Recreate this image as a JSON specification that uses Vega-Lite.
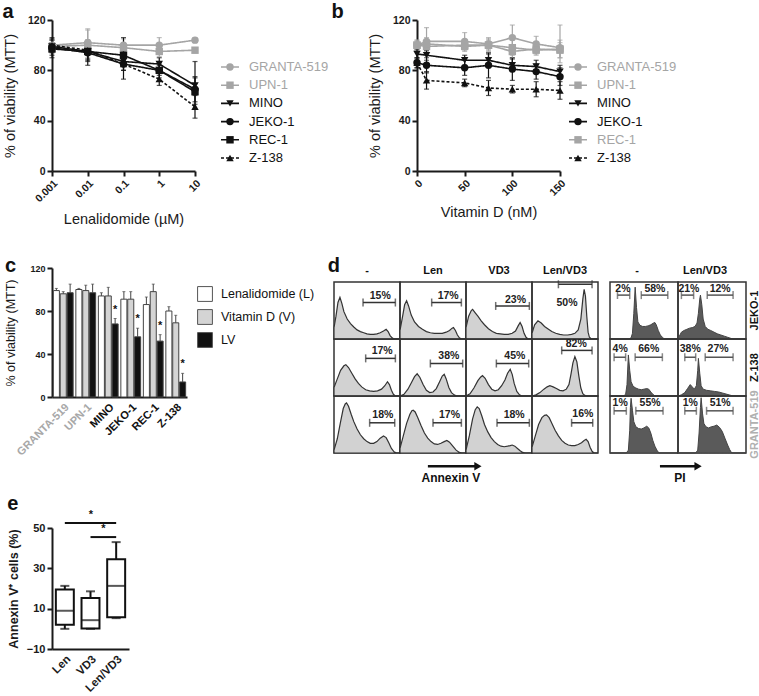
{
  "$schema": "https://vega.github.io/schema/vega-lite/v6.json",
  "padding": {"left": 2, "top": 2, "right": 0, "bottom": 0},
  "background": "white",
  "config": {
    "font": "Liberation Sans",
    "view": {"stroke": null},
    "title": {"anchor": "start", "fontSize": 20, "fontWeight": "bold", "color": "#111111", "font": "Liberation Sans"},
    "axis": {"grid": false, "domainColor": "#1a1a1a", "tickColor": "#1a1a1a", "labelColor": "#1a1a1a", "titleColor": "#1a1a1a", "domainWidth": 2, "tickWidth": 2, "tickSize": 5, "labelPadding": 2, "labelFont": "Liberation Sans", "titleFont": "Liberation Sans"},
    "legend": {"labelFont": "Liberation Sans", "labelColor": "#111111"},
    "header": {"labelFont": "Liberation Sans", "labelColor": "#111111"}
  },
  "datasets": {
    "lineA": [
      {"s": "GRANTA-519", "x": 0.001, "v": 100, "lo": 96, "hi": 104},
      {"s": "GRANTA-519", "x": 0.01, "v": 102, "lo": 93, "hi": 112},
      {"s": "GRANTA-519", "x": 0.1, "v": 100, "lo": 95, "hi": 105},
      {"s": "GRANTA-519", "x": 1, "v": 100, "lo": 94, "hi": 106},
      {"s": "GRANTA-519", "x": 10, "v": 104, "lo": 102, "hi": 106},
      {"s": "UPN-1", "x": 0.001, "v": 99, "lo": 94, "hi": 104},
      {"s": "UPN-1", "x": 0.01, "v": 100, "lo": 90, "hi": 113},
      {"s": "UPN-1", "x": 0.1, "v": 98, "lo": 94, "hi": 102},
      {"s": "UPN-1", "x": 1, "v": 95, "lo": 91, "hi": 99},
      {"s": "UPN-1", "x": 10, "v": 96, "lo": 94, "hi": 98},
      {"s": "MINO", "x": 0.001, "v": 99, "lo": 94, "hi": 104},
      {"s": "MINO", "x": 0.01, "v": 95, "lo": 88, "hi": 101},
      {"s": "MINO", "x": 0.1, "v": 87, "lo": 80, "hi": 94},
      {"s": "MINO", "x": 1, "v": 85, "lo": 80, "hi": 90},
      {"s": "MINO", "x": 10, "v": 68, "lo": 62, "hi": 74},
      {"s": "JEKO-1", "x": 0.001, "v": 98, "lo": 90, "hi": 106},
      {"s": "JEKO-1", "x": 0.01, "v": 94, "lo": 84, "hi": 104},
      {"s": "JEKO-1", "x": 0.1, "v": 85, "lo": 73, "hi": 97},
      {"s": "JEKO-1", "x": 1, "v": 80, "lo": 74, "hi": 86},
      {"s": "JEKO-1", "x": 10, "v": 65, "lo": 53, "hi": 87},
      {"s": "REC-1", "x": 0.001, "v": 97, "lo": 92, "hi": 102},
      {"s": "REC-1", "x": 0.01, "v": 95, "lo": 87, "hi": 103},
      {"s": "REC-1", "x": 0.1, "v": 92, "lo": 86, "hi": 106},
      {"s": "REC-1", "x": 1, "v": 80, "lo": 76, "hi": 84},
      {"s": "REC-1", "x": 10, "v": 63, "lo": 55, "hi": 75},
      {"s": "Z-138", "x": 0.001, "v": 100, "lo": 95, "hi": 105},
      {"s": "Z-138", "x": 0.01, "v": 96, "lo": 89, "hi": 103},
      {"s": "Z-138", "x": 0.1, "v": 85, "lo": 80, "hi": 90},
      {"s": "Z-138", "x": 1, "v": 73, "lo": 68, "hi": 78},
      {"s": "Z-138", "x": 10, "v": 51, "lo": 42, "hi": 60}
    ],
    "lineB": [
      {"s": "GRANTA-519", "x": 0, "v": 100, "lo": 96, "hi": 104},
      {"s": "GRANTA-519", "x": 10, "v": 103, "lo": 94, "hi": 114},
      {"s": "GRANTA-519", "x": 50, "v": 103, "lo": 97, "hi": 110},
      {"s": "GRANTA-519", "x": 75, "v": 101, "lo": 97, "hi": 106},
      {"s": "GRANTA-519", "x": 100, "v": 106, "lo": 97, "hi": 116},
      {"s": "GRANTA-519", "x": 125, "v": 101, "lo": 95, "hi": 107},
      {"s": "GRANTA-519", "x": 150, "v": 98, "lo": 86, "hi": 116},
      {"s": "UPN-1", "x": 0, "v": 100, "lo": 96, "hi": 104},
      {"s": "UPN-1", "x": 10, "v": 99, "lo": 95, "hi": 103},
      {"s": "UPN-1", "x": 50, "v": 100, "lo": 96, "hi": 104},
      {"s": "UPN-1", "x": 75, "v": 100, "lo": 96, "hi": 104},
      {"s": "UPN-1", "x": 100, "v": 95, "lo": 90, "hi": 100},
      {"s": "UPN-1", "x": 125, "v": 97, "lo": 93, "hi": 101},
      {"s": "UPN-1", "x": 150, "v": 96, "lo": 90, "hi": 102},
      {"s": "MINO", "x": 0, "v": 93, "lo": 89, "hi": 97},
      {"s": "MINO", "x": 10, "v": 92, "lo": 88, "hi": 96},
      {"s": "MINO", "x": 50, "v": 88, "lo": 84, "hi": 92},
      {"s": "MINO", "x": 75, "v": 88, "lo": 84, "hi": 93},
      {"s": "MINO", "x": 100, "v": 84, "lo": 79, "hi": 89},
      {"s": "MINO", "x": 125, "v": 83, "lo": 78, "hi": 88},
      {"s": "MINO", "x": 150, "v": 79, "lo": 74, "hi": 84},
      {"s": "JEKO-1", "x": 0, "v": 86, "lo": 82, "hi": 90},
      {"s": "JEKO-1", "x": 10, "v": 84, "lo": 78, "hi": 90},
      {"s": "JEKO-1", "x": 50, "v": 82, "lo": 76, "hi": 88},
      {"s": "JEKO-1", "x": 75, "v": 84, "lo": 74, "hi": 94},
      {"s": "JEKO-1", "x": 100, "v": 81, "lo": 72, "hi": 90},
      {"s": "JEKO-1", "x": 125, "v": 79, "lo": 73, "hi": 85},
      {"s": "JEKO-1", "x": 150, "v": 75, "lo": 68, "hi": 82},
      {"s": "REC-1", "x": 0, "v": 100, "lo": 97, "hi": 103},
      {"s": "REC-1", "x": 10, "v": 101, "lo": 96, "hi": 106},
      {"s": "REC-1", "x": 50, "v": 99, "lo": 95, "hi": 103},
      {"s": "REC-1", "x": 75, "v": 100, "lo": 95, "hi": 105},
      {"s": "REC-1", "x": 100, "v": 98, "lo": 92, "hi": 104},
      {"s": "REC-1", "x": 125, "v": 96, "lo": 92, "hi": 100},
      {"s": "REC-1", "x": 150, "v": 97, "lo": 90, "hi": 104},
      {"s": "Z-138", "x": 0, "v": 86, "lo": 82, "hi": 90},
      {"s": "Z-138", "x": 10, "v": 72, "lo": 65, "hi": 79},
      {"s": "Z-138", "x": 50, "v": 70, "lo": 67, "hi": 73},
      {"s": "Z-138", "x": 75, "v": 66, "lo": 60, "hi": 72},
      {"s": "Z-138", "x": 100, "v": 65, "lo": 62, "hi": 68},
      {"s": "Z-138", "x": 125, "v": 65, "lo": 59, "hi": 71},
      {"s": "Z-138", "x": 150, "v": 64, "lo": 57, "hi": 71}
    ],
    "barC": [
      {"line": "GRANTA-519", "treat": "Lenalidomide (L)", "v": 99, "hi": 101, "star": ""},
      {"line": "GRANTA-519", "treat": "Vitamin D (V)", "v": 96, "hi": 98, "star": ""},
      {"line": "GRANTA-519", "treat": "LV", "v": 97, "hi": 105, "star": ""},
      {"line": "UPN-1", "treat": "Lenalidomide (L)", "v": 100, "hi": 101, "star": ""},
      {"line": "UPN-1", "treat": "Vitamin D (V)", "v": 99, "hi": 104, "star": ""},
      {"line": "UPN-1", "treat": "LV", "v": 97, "hi": 105, "star": ""},
      {"line": "MINO", "treat": "Lenalidomide (L)", "v": 94, "hi": 97, "star": ""},
      {"line": "MINO", "treat": "Vitamin D (V)", "v": 94, "hi": 102, "star": ""},
      {"line": "MINO", "treat": "LV", "v": 68, "hi": 73, "star": "*"},
      {"line": "JEKO-1", "treat": "Lenalidomide (L)", "v": 91, "hi": 98, "star": ""},
      {"line": "JEKO-1", "treat": "Vitamin D (V)", "v": 91, "hi": 98, "star": ""},
      {"line": "JEKO-1", "treat": "LV", "v": 56, "hi": 64, "star": "*"},
      {"line": "REC-1", "treat": "Lenalidomide (L)", "v": 86, "hi": 93, "star": ""},
      {"line": "REC-1", "treat": "Vitamin D (V)", "v": 98, "hi": 105, "star": ""},
      {"line": "REC-1", "treat": "LV", "v": 52, "hi": 58, "star": "*"},
      {"line": "Z-138", "treat": "Lenalidomide (L)", "v": 80, "hi": 84, "star": ""},
      {"line": "Z-138", "treat": "Vitamin D (V)", "v": 69, "hi": 76, "star": ""},
      {"line": "Z-138", "treat": "LV", "v": 14, "hi": 22, "star": "*"}
    ],
    "boxE": [
      {"g": "Len", "min": 0, "q1": 2, "med": 9, "q3": 19.5, "max": 21.3},
      {"g": "VD3", "min": 0, "q1": 0.2, "med": 4.3, "q3": 15.3, "max": 18.6},
      {"g": "Len/VD3", "min": 5.3, "q1": 5.8, "med": 21.3, "q3": 34.5, "max": 43}
    ],
    "sigE": [
      {"g": "Len", "g2": "Len/VD3", "y": 52.5, "star": "*"},
      {"g": "VD3", "g2": "Len/VD3", "y": 45.5, "star": "*"}
    ],
    "arrows": [
      {"x1": 0.229, "x2": 0.351, "tx": 0.285, "lab": "Annexin V"},
      {"x1": 0.795, "x2": 0.888, "tx": 0.844, "lab": "PI"}
    ],
    "hist": [
      {"k": "A", "r": "JEKO-1", "c": "-", "t": "h", "xs": [0,3,6,9,12,15,20,25,30,35,40,45,50,55,60,65,70,75,79,82,85,88,91,100], "ys": [20,40,64,73,62,48,35,27,21,16,13,11,9,8,8,9,11,14,17,13,6,2,0,0]},
      {"k": "A", "r": "JEKO-1", "c": "Len", "t": "h", "xs": [0,4,7,10,13,17,22,28,34,40,46,52,58,64,70,75,79,81,84,87,90,93,100], "ys": [15,40,60,67,58,42,30,22,17,13,11,10,10,10,12,15,19,20,15,7,2,0,0]},
      {"k": "A", "r": "JEKO-1", "c": "VD3", "t": "h", "xs": [0,4,8,10,14,18,23,28,34,40,46,52,58,64,70,75,79,82,85,88,91,94,100], "ys": [20,40,50,52,46,40,32,25,18,13,10,9,8,8,10,14,23,29,22,10,3,0,0]},
      {"k": "A", "r": "JEKO-1", "c": "Len/VD3", "t": "h", "xs": [0,4,9,14,19,25,30,36,42,48,54,60,65,70,74,77,79,81,83,85,87,90,100], "ys": [10,25,32,28,22,17,13,10,8,7,7,8,10,16,35,70,87,75,40,12,3,0,0]},
      {"k": "A", "r": "Z-138", "c": "-", "t": "h", "xs": [0,5,10,15,18,22,27,32,37,42,48,54,60,66,72,77,81,84,87,90,93,100], "ys": [15,30,45,53,55,50,40,30,22,16,11,9,8,9,12,18,25,20,10,3,0,0]},
      {"k": "A", "r": "Z-138", "c": "Len", "t": "h", "xs": [0,6,12,18,22,26,30,35,40,45,50,55,60,64,67,70,74,78,82,86,100], "ys": [0,3,12,25,34,39,33,20,10,6,7,13,25,35,38,30,15,6,2,0,0]},
      {"k": "A", "r": "Z-138", "c": "VD3", "t": "h", "xs": [0,6,12,18,22,25,29,34,39,44,49,54,59,63,67,70,73,77,81,85,100], "ys": [0,4,14,27,33,36,31,20,12,9,11,18,28,40,47,38,22,8,2,0,0]},
      {"k": "A", "r": "Z-138", "c": "Len/VD3", "t": "h", "xs": [0,6,12,18,23,27,32,37,42,47,52,56,59,62,65,68,71,74,77,80,84,100], "ys": [0,2,6,12,16,18,16,13,10,9,12,20,38,58,69,60,35,14,4,1,0,0]},
      {"k": "A", "r": "GRANTA-519", "c": "-", "t": "h", "xs": [0,5,10,14,17,19,22,26,30,35,40,45,50,55,60,65,70,75,79,83,87,91,95,100], "ys": [5,25,55,78,86,88,82,68,55,42,32,25,20,17,17,20,26,30,27,18,8,2,0,0]},
      {"k": "A", "r": "GRANTA-519", "c": "Len", "t": "h", "xs": [0,5,10,15,18,20,23,27,32,37,42,47,52,57,62,67,71,75,80,85,90,94,100], "ys": [8,30,52,68,74,75,72,62,48,35,26,20,16,15,17,20,22,19,12,5,1,0,0]},
      {"k": "A", "r": "GRANTA-519", "c": "VD3", "t": "h", "xs": [0,5,10,14,17,20,24,28,33,38,43,48,53,58,63,67,70,74,78,82,86,90,100], "ys": [5,30,60,76,81,78,65,50,37,27,20,15,12,11,12,13,14,12,8,4,1,0,0]},
      {"k": "A", "r": "GRANTA-519", "c": "Len/VD3", "t": "h", "xs": [0,5,10,15,19,22,26,30,35,40,45,50,55,60,65,70,75,79,82,85,88,91,94,100], "ys": [10,30,50,62,66,67,62,52,40,30,22,17,14,13,13,15,18,22,24,20,10,3,0,0]},
      {"k": "P", "r": "JEKO-1", "c": "-", "t": "h", "xs": [0,28,31,33,35,37,39,41,44,48,52,56,60,64,66,68,71,74,77,80,100], "ys": [0,0,2,10,45,91,55,30,24,22,22,23,25,28,29,25,15,7,3,0,0]},
      {"k": "P", "r": "JEKO-1", "c": "Len/VD3", "t": "h", "xs": [0,2,5,9,13,17,21,25,28,30,32,33,35,37,40,44,48,53,58,63,68,73,78,82,100], "ys": [0,5,12,15,17,19,20,22,28,45,70,77,60,35,22,17,15,12,9,7,5,3,1,0,0]},
      {"k": "P", "r": "Z-138", "c": "-", "t": "h", "xs": [0,20,23,25,27,29,31,34,38,42,46,50,54,57,60,63,66,100], "ys": [0,0,3,20,72,45,25,17,14,12,11,12,13,12,7,3,0,0]},
      {"k": "P", "r": "Z-138", "c": "Len/VD3", "t": "h", "xs": [0,5,10,14,18,21,24,27,29,30,32,34,37,42,48,54,60,66,72,78,84,100], "ys": [0,2,6,13,20,16,12,18,45,66,40,18,12,10,9,8,7,5,3,1,0,0]},
      {"k": "P", "r": "GRANTA-519", "c": "-", "t": "h", "xs": [0,24,27,29,30,31,33,35,38,42,46,50,54,57,60,63,66,69,72,100], "ys": [0,0,5,40,80,96,75,55,46,43,42,44,47,44,35,22,12,5,0,0]},
      {"k": "P", "r": "GRANTA-519", "c": "Len/VD3", "t": "h", "xs": [0,26,29,31,33,34,36,38,41,45,49,53,57,61,65,69,73,76,79,100], "ys": [0,0,5,35,80,97,70,52,46,44,46,47,49,45,38,26,14,6,0,0]},
      {"k": "A", "r": "JEKO-1", "c": "-", "t": "g", "g1": 44, "g2": 93, "gy": 64, "gm": 70, "gl": 75, "lab": "15%"},
      {"k": "A", "r": "JEKO-1", "c": "Len", "t": "g", "g1": 48, "g2": 93, "gy": 64, "gm": 73, "gl": 75, "lab": "17%"},
      {"k": "A", "r": "JEKO-1", "c": "VD3", "t": "g", "g1": 45, "g2": 96, "gy": 58, "gm": 75, "gl": 69, "lab": "23%"},
      {"k": "A", "r": "JEKO-1", "c": "Len/VD3", "t": "g", "g1": 40, "g2": 91, "gy": 96, "gm": 53, "gl": 64, "lab": "50%"},
      {"k": "A", "r": "Z-138", "c": "-", "t": "g", "g1": 48, "g2": 93, "gy": 66, "gm": 73, "gl": 79, "lab": "17%"},
      {"k": "A", "r": "Z-138", "c": "Len", "t": "g", "g1": 46, "g2": 95, "gy": 57, "gm": 74, "gl": 70, "lab": "38%"},
      {"k": "A", "r": "Z-138", "c": "VD3", "t": "g", "g1": 46, "g2": 95, "gy": 57, "gm": 74, "gl": 70, "lab": "45%"},
      {"k": "A", "r": "Z-138", "c": "Len/VD3", "t": "g", "g1": 45, "g2": 91, "gy": 80, "gm": 67, "gl": 91, "lab": "82%"},
      {"k": "A", "r": "GRANTA-519", "c": "-", "t": "g", "g1": 54, "g2": 92, "gy": 53, "gm": 74, "gl": 66, "lab": "18%"},
      {"k": "A", "r": "GRANTA-519", "c": "Len", "t": "g", "g1": 50, "g2": 93, "gy": 53, "gm": 75, "gl": 66, "lab": "17%"},
      {"k": "A", "r": "GRANTA-519", "c": "VD3", "t": "g", "g1": 47, "g2": 96, "gy": 53, "gm": 73, "gl": 66, "lab": "18%"},
      {"k": "A", "r": "GRANTA-519", "c": "Len/VD3", "t": "g", "g1": 60, "g2": 92, "gy": 53, "gm": 77, "gl": 69, "lab": "16%"},
      {"k": "P", "r": "JEKO-1", "c": "-", "t": "g", "g1": 11, "g2": 29, "gy": 77, "gm": 19, "gl": 88, "lab": "2%"},
      {"k": "P", "r": "JEKO-1", "c": "-", "t": "g", "g1": 46, "g2": 85, "gy": 77, "gm": 66, "gl": 88, "lab": "58%"},
      {"k": "P", "r": "JEKO-1", "c": "Len/VD3", "t": "g", "g1": 5, "g2": 23, "gy": 77, "gm": 16, "gl": 88, "lab": "21%"},
      {"k": "P", "r": "JEKO-1", "c": "Len/VD3", "t": "g", "g1": 43, "g2": 81, "gy": 77, "gm": 62, "gl": 88, "lab": "12%"},
      {"k": "P", "r": "Z-138", "c": "-", "t": "g", "g1": 6, "g2": 23, "gy": 68, "gm": 15, "gl": 82, "lab": "4%"},
      {"k": "P", "r": "Z-138", "c": "-", "t": "g", "g1": 37, "g2": 77, "gy": 68, "gm": 57, "gl": 82, "lab": "66%"},
      {"k": "P", "r": "Z-138", "c": "Len/VD3", "t": "g", "g1": 10, "g2": 26, "gy": 68, "gm": 18, "gl": 82, "lab": "38%"},
      {"k": "P", "r": "Z-138", "c": "Len/VD3", "t": "g", "g1": 40, "g2": 81, "gy": 68, "gm": 59, "gl": 82, "lab": "27%"},
      {"k": "P", "r": "GRANTA-519", "c": "-", "t": "g", "g1": 6, "g2": 24, "gy": 74, "gm": 15, "gl": 88, "lab": "1%"},
      {"k": "P", "r": "GRANTA-519", "c": "-", "t": "g", "g1": 38, "g2": 78, "gy": 74, "gm": 59, "gl": 88, "lab": "55%"},
      {"k": "P", "r": "GRANTA-519", "c": "Len/VD3", "t": "g", "g1": 10, "g2": 27, "gy": 74, "gm": 18, "gl": 88, "lab": "1%"},
      {"k": "P", "r": "GRANTA-519", "c": "Len/VD3", "t": "g", "g1": 42, "g2": 81, "gy": 74, "gm": 62, "gl": 88, "lab": "51%"}
    ]
  },
  "resolve": {"scale": {"color": "independent", "fill": "independent", "shape": "independent", "strokeDash": "independent"}, "legend": {"color": "independent", "fill": "independent", "shape": "independent", "strokeDash": "independent"}},
  "vconcat": [
    {
      "resolve": {"scale": {"color": "independent", "fill": "independent", "shape": "independent", "strokeDash": "independent"}, "legend": {"color": "independent", "fill": "independent", "shape": "independent", "strokeDash": "independent"}},
      "vconcat": [
        {
          "resolve": {"scale": {"color": "independent", "fill": "independent", "shape": "independent", "strokeDash": "independent"}, "legend": {"color": "independent", "fill": "independent", "shape": "independent", "strokeDash": "independent"}},
          "hconcat": [
            {
              "resolve": {"scale": {"color": "independent", "shape": "independent", "strokeDash": "independent"}},
              "hconcat": [
                {
                  "title": {"text": "a", "offset": -7},
                  "width": 143,
                  "height": 151,
                  "data": {"name": "lineA"},
                  "encoding": {
                    "x": {"field": "x", "type": "quantitative", "scale": {"type": "log", "domain": [0.001, 10], "nice": false}, "axis": {"values": [0.001, 0.01, 0.1, 1, 10], "format": "~g", "labelAngle": -45, "labelFontSize": 10.5, "labelFontWeight": "bold", "title": "Lenalidomide (µM)", "titleFontSize": 14.5, "titleFontWeight": "normal", "titlePadding": 8}},
                    "color": {"field": "s", "type": "nominal", "scale": {"domain": ["GRANTA-519", "UPN-1", "MINO", "JEKO-1", "REC-1", "Z-138"], "range": ["#a5a5a5", "#a5a5a5", "#111111", "#111111", "#111111", "#111111"]}, "legend": null}
                  },
                  "layer": [
                    {"mark": {"type": "errorbar", "ticks": true, "thickness": 1.2}, "encoding": {"y": {"field": "lo", "type": "quantitative", "title": "% of viability (MTT)", "scale": {"domain": [0, 120], "nice": false}, "axis": {"values": [0, 40, 80, 120], "labelFontSize": 10.5, "labelFontWeight": "bold", "titleFontSize": 14.5, "titleFontWeight": "normal", "titlePadding": 10}}, "y2": {"field": "hi"}}},
                    {"mark": {"type": "line", "strokeWidth": 1.6}, "encoding": {"y": {"field": "v", "type": "quantitative", "title": "% of viability (MTT)"}, "strokeDash": {"field": "s", "type": "nominal", "scale": {"domain": ["GRANTA-519", "UPN-1", "MINO", "JEKO-1", "REC-1", "Z-138"], "range": [[1, 0], [1, 0], [1, 0], [1, 0], [1, 0], [3, 2]]}, "legend": null}}},
                    {"mark": {"type": "point", "filled": true, "size": 55, "opacity": 1}, "encoding": {"y": {"field": "v", "type": "quantitative", "title": "% of viability (MTT)"}, "shape": {"field": "s", "type": "nominal", "scale": {"domain": ["GRANTA-519", "UPN-1", "MINO", "JEKO-1", "REC-1", "Z-138"], "range": ["circle", "square", "triangle-down", "circle", "square", "triangle-up"]}, "legend": null}}}
                  ]
                },
                {
                  "width": 100,
                  "height": 185,
                  "data": {"name": "lineA"},
                  "transform": [{"filter": "datum.x === 10"}],
                  "encoding": {
                    "y": {"field": "s", "type": "nominal", "scale": {"type": "point", "domain": ["GRANTA-519", "UPN-1", "MINO", "JEKO-1", "REC-1", "Z-138"], "range": [47, 138], "padding": 0}, "axis": null},
                    "color": {"field": "s", "type": "nominal", "scale": {"domain": ["GRANTA-519", "UPN-1", "MINO", "JEKO-1", "REC-1", "Z-138"], "range": ["#a5a5a5", "#a5a5a5", "#111111", "#111111", "#111111", "#111111"]}, "legend": null}
                  },
                  "layer": [
                    {"mark": {"type": "rule", "strokeWidth": 1.6}, "encoding": {"x": {"datum": 0, "type": "quantitative", "scale": {"domain": [0, 100], "nice": false}, "axis": null}, "x2": {"datum": 18}, "strokeDash": {"field": "s", "type": "nominal", "scale": {"domain": ["GRANTA-519", "UPN-1", "MINO", "JEKO-1", "REC-1", "Z-138"], "range": [[1, 0], [1, 0], [1, 0], [1, 0], [1, 0], [3, 2]]}, "legend": null}}},
                    {"mark": {"type": "point", "filled": true, "size": 55, "opacity": 1}, "encoding": {"x": {"datum": 9, "type": "quantitative"}, "shape": {"field": "s", "type": "nominal", "scale": {"domain": ["GRANTA-519", "UPN-1", "MINO", "JEKO-1", "REC-1", "Z-138"], "range": ["circle", "square", "triangle-down", "circle", "square", "triangle-up"]}, "legend": null}}},
                    {"mark": {"type": "text", "align": "left", "baseline": "middle", "fontSize": 13}, "encoding": {"x": {"datum": 28, "type": "quantitative"}, "text": {"field": "s"}}}
                  ]
                }
              ],
              "spacing": 17
            },
            {
              "resolve": {"scale": {"color": "independent", "shape": "independent", "strokeDash": "independent"}},
              "hconcat": [
                {
                  "title": {"text": "b", "offset": -7, "dx": -36},
                  "width": 143,
                  "height": 151,
                  "data": {"name": "lineB"},
                  "encoding": {
                    "x": {"field": "x", "type": "quantitative", "scale": {"domain": [0, 150], "nice": false}, "axis": {"values": [0, 50, 100, 150], "labelAngle": -45, "labelFontSize": 10.5, "labelFontWeight": "bold", "title": "Vitamin D (nM)", "titleFontSize": 14.5, "titleFontWeight": "normal", "titlePadding": 8}},
                    "color": {"field": "s", "type": "nominal", "scale": {"domain": ["GRANTA-519", "UPN-1", "MINO", "JEKO-1", "REC-1", "Z-138"], "range": ["#a5a5a5", "#a5a5a5", "#111111", "#111111", "#a5a5a5", "#111111"]}, "legend": null}
                  },
                  "layer": [
                    {"mark": {"type": "errorbar", "ticks": true, "thickness": 1.2}, "encoding": {"y": {"field": "lo", "type": "quantitative", "title": "% of viability (MTT)", "scale": {"domain": [0, 120], "nice": false}, "axis": {"values": [0, 40, 80, 120], "labelFontSize": 10.5, "labelFontWeight": "bold", "titleFontSize": 14.5, "titleFontWeight": "normal", "titlePadding": 10}}, "y2": {"field": "hi"}}},
                    {"mark": {"type": "line", "strokeWidth": 1.6}, "encoding": {"y": {"field": "v", "type": "quantitative", "title": "% of viability (MTT)"}, "strokeDash": {"field": "s", "type": "nominal", "scale": {"domain": ["GRANTA-519", "UPN-1", "MINO", "JEKO-1", "REC-1", "Z-138"], "range": [[1, 0], [1, 0], [1, 0], [1, 0], [1, 0], [3, 2]]}, "legend": null}}},
                    {"mark": {"type": "point", "filled": true, "size": 55, "opacity": 1}, "encoding": {"y": {"field": "v", "type": "quantitative", "title": "% of viability (MTT)"}, "shape": {"field": "s", "type": "nominal", "scale": {"domain": ["GRANTA-519", "UPN-1", "MINO", "JEKO-1", "REC-1", "Z-138"], "range": ["circle", "square", "triangle-down", "circle", "square", "triangle-up"]}, "legend": null}}}
                  ]
                },
                {
                  "width": 100,
                  "height": 185,
                  "data": {"name": "lineB"},
                  "transform": [{"filter": "datum.x === 150"}],
                  "encoding": {
                    "y": {"field": "s", "type": "nominal", "scale": {"type": "point", "domain": ["GRANTA-519", "UPN-1", "MINO", "JEKO-1", "REC-1", "Z-138"], "range": [47, 138], "padding": 0}, "axis": null},
                    "color": {"field": "s", "type": "nominal", "scale": {"domain": ["GRANTA-519", "UPN-1", "MINO", "JEKO-1", "REC-1", "Z-138"], "range": ["#a5a5a5", "#a5a5a5", "#111111", "#111111", "#a5a5a5", "#111111"]}, "legend": null}
                  },
                  "layer": [
                    {"mark": {"type": "rule", "strokeWidth": 1.6}, "encoding": {"x": {"datum": 0, "type": "quantitative", "scale": {"domain": [0, 100], "nice": false}, "axis": null}, "x2": {"datum": 18}, "strokeDash": {"field": "s", "type": "nominal", "scale": {"domain": ["GRANTA-519", "UPN-1", "MINO", "JEKO-1", "REC-1", "Z-138"], "range": [[1, 0], [1, 0], [1, 0], [1, 0], [1, 0], [3, 2]]}, "legend": null}}},
                    {"mark": {"type": "point", "filled": true, "size": 55, "opacity": 1}, "encoding": {"x": {"datum": 9, "type": "quantitative"}, "shape": {"field": "s", "type": "nominal", "scale": {"domain": ["GRANTA-519", "UPN-1", "MINO", "JEKO-1", "REC-1", "Z-138"], "range": ["circle", "square", "triangle-down", "circle", "square", "triangle-up"]}, "legend": null}}},
                    {"mark": {"type": "text", "align": "left", "baseline": "middle", "fontSize": 13}, "encoding": {"x": {"datum": 28, "type": "quantitative"}, "text": {"field": "s"}}}
                  ]
                }
              ],
              "spacing": 0
            }
          ],
          "spacing": 2
        },
        {
          "align": "none",
          "resolve": {"scale": {"color": "independent", "fill": "independent", "shape": "independent", "strokeDash": "independent"}, "legend": {"color": "independent", "fill": "independent", "shape": "independent", "strokeDash": "independent"}},
          "hconcat": [
            {
              "title": {"text": "c", "offset": -12},
              "width": 135,
              "height": 129,
              "data": {"name": "barC"},
              "encoding": {
                "x": {"field": "line", "type": "nominal", "sort": ["GRANTA-519", "UPN-1", "MINO", "JEKO-1", "REC-1", "Z-138"], "scale": {"paddingInner": 0.12, "paddingOuter": 0.06}, "axis": {"title": null, "labelAngle": -45, "labelFontSize": 11, "labelFontWeight": "bold", "ticks": false, "labelPadding": 4, "labelColor": {"condition": {"test": "datum.value === 'GRANTA-519' || datum.value === 'UPN-1'", "value": "#a8a8a8"}, "value": "#111111"}}},
                "xOffset": {"field": "treat", "type": "nominal", "sort": ["Lenalidomide (L)", "Vitamin D (V)", "LV"], "scale": {"paddingInner": 0.12}}
              },
              "layer": [
                {"mark": {"type": "bar", "stroke": "#444444", "strokeWidth": 1}, "encoding": {
                  "y": {"field": "v", "type": "quantitative", "title": "% of viability (MTT)", "scale": {"domain": [0, 120], "nice": false}, "axis": {"values": [0, 40, 80, 120], "labelFontSize": 9, "labelFontWeight": "bold", "titleFontSize": 12.5, "titleFontWeight": "normal", "titlePadding": 12}},
                  "fill": {"field": "treat", "type": "nominal", "scale": {"domain": ["Lenalidomide (L)", "Vitamin D (V)", "LV"], "range": ["#ffffff", "#d4d4d4", "#111111"]}, "legend": {"orient": "none", "legendX": 145, "legendY": 18, "title": null, "symbolType": "square", "symbolSize": 220, "symbolStrokeColor": "#555555", "symbolStrokeWidth": 1, "labelFontSize": 12.5, "rowPadding": 3, "labelOffset": 8}}
                }},
                {"mark": {"type": "rule", "color": "#444444", "strokeWidth": 1}, "encoding": {"y": {"field": "v", "type": "quantitative", "title": "% of viability (MTT)"}, "y2": {"field": "hi"}}},
                {"mark": {"type": "tick", "color": "#444444", "thickness": 1, "size": 3}, "encoding": {"y": {"field": "hi", "type": "quantitative", "title": "% of viability (MTT)"}}},
                {"mark": {"type": "text", "dy": -4, "fontSize": 11, "fontWeight": "bold", "color": "#111111", "baseline": "bottom"}, "encoding": {"y": {"field": "hi", "type": "quantitative", "title": "% of viability (MTT)"}, "text": {"field": "star"}}}
              ]
            },
            {
              "title": {"text": "d", "offset": -11, "dx": -3},
              "spacing": 3,
              "vconcat": [
                {
                  "spacing": 0,
                  "vconcat": [
                    {
                      "spacing": 5,
                      "hconcat": [
                        {
                          "data": {"name": "hist"},
                          "transform": [{"filter": "datum.k === 'A' && datum.t === 'h' && datum.r === 'JEKO-1'"}],
                          "width": 264,
                          "height": 11,
                          "mark": {"type": "text", "fontSize": 11, "fontWeight": "bold", "baseline": "bottom", "dy": -3, "color": "#111111"},
                          "encoding": {
                            "x": {"field": "c", "type": "nominal", "scale": {"domain": ["-", "Len", "VD3", "Len/VD3"], "paddingInner": 0, "paddingOuter": 0}, "axis": null},
                            "y": {"datum": 0, "type": "quantitative", "scale": {"domain": [0, 1]}, "axis": null},
                            "text": {"field": "c"}
                          }
                        },
                        {
                          "data": {"name": "hist"},
                          "transform": [{"filter": "datum.k === 'P' && datum.t === 'h' && datum.r === 'JEKO-1'"}],
                          "width": 136,
                          "height": 11,
                          "mark": {"type": "text", "fontSize": 11, "fontWeight": "bold", "baseline": "bottom", "dy": -3, "color": "#111111"},
                          "encoding": {
                            "x": {"field": "c", "type": "nominal", "scale": {"domain": ["-", "Len/VD3"], "paddingInner": 0, "paddingOuter": 0}, "axis": null},
                            "y": {"datum": 0, "type": "quantitative", "scale": {"domain": [0, 1]}, "axis": null},
                            "text": {"field": "c"}
                          }
                        }
                      ]
                    },
                    {
                      "spacing": 5,
                      "hconcat": [
                        {
                          "data": {"name": "hist"},
                          "transform": [{"filter": "datum.k === 'A'"}],
                          "bounds": "flush",
                          "facet": {
                            "row": {"field": "r", "type": "nominal", "sort": ["JEKO-1", "Z-138", "GRANTA-519"], "header": {"labels": false, "title": null}},
                            "column": {"field": "c", "type": "nominal", "sort": ["-", "Len", "VD3", "Len/VD3"], "header": {"labels": false, "title": null}}
                          },
                          "spacing": 0,
                          "spec": {
                            "width": 66,
                            "height": 57,
                            "view": {"stroke": "#333333", "strokeWidth": 1.5},
                            "layer": [
                              {"transform": [{"filter": "datum.t === 'h'"}, {"flatten": ["xs", "ys"], "as": ["x", "y"]}], "mark": {"type": "area", "fill": "#d2d2d2", "stroke": "#333333", "strokeWidth": 1.2, "fillOpacity": 1}, "encoding": {"x": {"field": "x", "type": "quantitative", "scale": {"domain": [0, 100], "nice": false}, "axis": null}, "y": {"field": "y", "type": "quantitative", "scale": {"domain": [0, 100], "nice": false}, "axis": null}}},
                              {"transform": [{"filter": "datum.t === 'g'"}], "mark": {"type": "rule", "stroke": "#333333", "strokeWidth": 1.5}, "encoding": {"x": {"field": "g1", "type": "quantitative"}, "x2": {"field": "g2"}, "y": {"field": "gy", "type": "quantitative"}}},
                              {"transform": [{"filter": "datum.t === 'g'"}], "mark": {"type": "tick", "orient": "vertical", "size": 8, "thickness": 1.5, "color": "#333333"}, "encoding": {"x": {"field": "g1", "type": "quantitative"}, "y": {"field": "gy", "type": "quantitative"}}},
                              {"transform": [{"filter": "datum.t === 'g'"}], "mark": {"type": "tick", "orient": "vertical", "size": 8, "thickness": 1.5, "color": "#333333"}, "encoding": {"x": {"field": "g2", "type": "quantitative"}, "y": {"field": "gy", "type": "quantitative"}}},
                              {"transform": [{"filter": "datum.t === 'g'"}], "mark": {"type": "text", "fontSize": 10.5, "fontWeight": "bold", "color": "#222222"}, "encoding": {"x": {"field": "gm", "type": "quantitative"}, "y": {"field": "gl", "type": "quantitative"}, "text": {"field": "lab"}}}
                            ]
                          }
                        },
                        {
                          "data": {"name": "hist"},
                          "transform": [{"filter": "datum.k === 'P'"}],
                          "bounds": "flush",
                          "facet": {
                            "row": {"field": "r", "type": "nominal", "sort": ["JEKO-1", "Z-138", "GRANTA-519"], "header": {"title": null, "labelOrient": "right", "labelAngle": 270, "labelFontSize": 11, "labelFontWeight": "bold", "labelPadding": 3, "labelColor": {"expr": "parent['r'] === 'GRANTA-519' ? '#b0b0b0' : '#111111'"}}},
                            "column": {"field": "c", "type": "nominal", "sort": ["-", "Len/VD3"], "header": {"labels": false, "title": null}}
                          },
                          "spacing": 0,
                          "spec": {
                            "width": 68,
                            "height": 57,
                            "view": {"stroke": "#333333", "strokeWidth": 1.5},
                            "layer": [
                              {"transform": [{"filter": "datum.t === 'h'"}, {"flatten": ["xs", "ys"], "as": ["x", "y"]}], "mark": {"type": "area", "fill": "#5a5a5a", "stroke": "#444444", "strokeWidth": 1, "fillOpacity": 1}, "encoding": {"x": {"field": "x", "type": "quantitative", "scale": {"domain": [0, 100], "nice": false}, "axis": null}, "y": {"field": "y", "type": "quantitative", "scale": {"domain": [0, 100], "nice": false}, "axis": null}}},
                              {"transform": [{"filter": "datum.t === 'g'"}], "mark": {"type": "rule", "stroke": "#555555", "strokeWidth": 1.5}, "encoding": {"x": {"field": "g1", "type": "quantitative"}, "x2": {"field": "g2"}, "y": {"field": "gy", "type": "quantitative"}}},
                              {"transform": [{"filter": "datum.t === 'g'"}], "mark": {"type": "tick", "orient": "vertical", "size": 8, "thickness": 1.5, "color": "#555555"}, "encoding": {"x": {"field": "g1", "type": "quantitative"}, "y": {"field": "gy", "type": "quantitative"}}},
                              {"transform": [{"filter": "datum.t === 'g'"}], "mark": {"type": "tick", "orient": "vertical", "size": 8, "thickness": 1.5, "color": "#555555"}, "encoding": {"x": {"field": "g2", "type": "quantitative"}, "y": {"field": "gy", "type": "quantitative"}}},
                              {"transform": [{"filter": "datum.t === 'g'"}], "mark": {"type": "text", "fontSize": 10.5, "fontWeight": "bold", "color": "#222222"}, "encoding": {"x": {"field": "gm", "type": "quantitative"}, "y": {"field": "gl", "type": "quantitative"}, "text": {"field": "lab"}}}
                            ]
                          }
                        }
                      ]
                    }
                  ]
                },
                {
                  "data": {"name": "arrows"},
                  "width": 410,
                  "height": 22,
                  "layer": [
                    {"mark": {"type": "rule", "strokeWidth": 2.5, "color": "#111111"}, "encoding": {"x": {"field": "x1", "type": "quantitative", "scale": {"domain": [0, 1], "nice": false}, "axis": null}, "x2": {"field": "x2"}, "y": {"datum": 0.85, "type": "quantitative", "scale": {"domain": [0, 1], "nice": false}, "axis": null}}},
                    {"mark": {"type": "point", "shape": "triangle-right", "filled": true, "size": 70, "color": "#111111", "opacity": 1}, "encoding": {"x": {"field": "x2", "type": "quantitative"}, "y": {"datum": 0.85, "type": "quantitative"}}},
                    {"mark": {"type": "text", "fontSize": 12, "fontWeight": "bold", "color": "#111111", "baseline": "bottom"}, "encoding": {"x": {"field": "tx", "type": "quantitative"}, "y": {"datum": 0, "type": "quantitative"}, "text": {"field": "lab"}}}
                  ]
                }
              ]
            }
          ],
          "spacing": 12
        }
      ],
      "spacing": 30
    },
    {
      "title": {"text": "e", "offset": -5},
      "width": 77,
      "height": 121,
      "encoding": {
        "x": {"field": "g", "type": "nominal", "scale": {"domain": ["Len", "VD3", "Len/VD3"], "paddingInner": 0.3, "paddingOuter": 0.15}, "axis": {"title": null, "labelAngle": -45, "labelFontSize": 11.5, "labelFontWeight": "bold", "ticks": false, "labelPadding": 4}}
      },
      "layer": [
        {"data": {"name": "boxE"}, "mark": {"type": "rule", "strokeWidth": 2, "color": "#111111"}, "encoding": {"y": {"field": "min", "type": "quantitative", "title": "Annexin V⁺ cells (%)", "scale": {"domain": [-10, 50], "nice": false, "zero": false}, "axis": {"values": [-10, 10, 30, 50], "labelFontSize": 11, "labelFontWeight": "bold", "titleFontSize": 12.5, "titleFontWeight": "bold", "titlePadding": 6}}, "y2": {"field": "max"}}},
        {"data": {"name": "boxE"}, "mark": {"type": "bar", "fill": "white", "stroke": "#111111", "strokeWidth": 2}, "encoding": {"y": {"field": "q1", "type": "quantitative", "title": "Annexin V⁺ cells (%)"}, "y2": {"field": "q3"}}},
        {"data": {"name": "boxE"}, "mark": {"type": "tick", "color": "#111111", "thickness": 2, "size": 18}, "encoding": {"y": {"field": "med", "type": "quantitative", "title": "Annexin V⁺ cells (%)"}}},
        {"data": {"name": "boxE"}, "mark": {"type": "tick", "color": "#111111", "thickness": 2, "size": 9}, "encoding": {"y": {"field": "min", "type": "quantitative", "title": "Annexin V⁺ cells (%)"}}},
        {"data": {"name": "boxE"}, "mark": {"type": "tick", "color": "#111111", "thickness": 2, "size": 9}, "encoding": {"y": {"field": "max", "type": "quantitative", "title": "Annexin V⁺ cells (%)"}}},
        {"data": {"name": "sigE"}, "mark": {"type": "rule", "strokeWidth": 2, "color": "#111111"}, "encoding": {"x2": {"field": "g2"}, "y": {"field": "y", "type": "quantitative", "title": "Annexin V⁺ cells (%)"}}},
        {"data": {"name": "sigE"}, "transform": [{"filter": "datum.g === 'Len'"}], "mark": {"type": "text", "dx": 26, "dy": -3, "baseline": "bottom", "fontSize": 11, "fontWeight": "bold", "color": "#111111"}, "encoding": {"y": {"field": "y", "type": "quantitative", "title": "Annexin V⁺ cells (%)"}, "text": {"field": "star"}}},
        {"data": {"name": "sigE"}, "transform": [{"filter": "datum.g === 'VD3'"}], "mark": {"type": "text", "dx": 13, "dy": -3, "baseline": "bottom", "fontSize": 11, "fontWeight": "bold", "color": "#111111"}, "encoding": {"y": {"field": "y", "type": "quantitative", "title": "Annexin V⁺ cells (%)"}, "text": {"field": "star"}}}
      ]
    }
  ],
  "spacing": 8
}
